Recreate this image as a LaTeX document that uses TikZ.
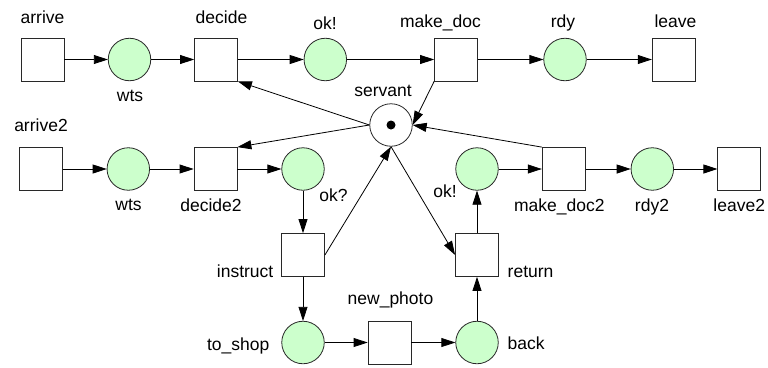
\documentclass[tikz,border=0pt]{standalone}
\usepackage{fontspec}
\setmainfont{Liberation Sans}
\usetikzlibrary{arrows.meta}
\definecolor{placegreen}{RGB}{204,255,204}
\definecolor{edgegray}{RGB}{40,40,40}

\begin{document}
\begin{tikzpicture}[x=1pt,y=-1pt,
  trans/.style={draw=edgegray, fill=white, minimum size=43pt, inner sep=0pt, line width=0.8pt},
  place/.style={circle, draw=edgegray, fill=placegreen, minimum size=42.5pt, inner sep=0pt, line width=0.8pt},
  token/.style={circle, fill=black, minimum size=9pt, inner sep=0pt},
  lbl/.style={anchor=base, inner sep=0pt, font=\fontsize{17.5}{20}\selectfont},
  flow/.style={draw=black, line width=0.8pt, -{Triangle[length=14pt,width=9pt]}},
]
\fill[white] (0,0) rectangle (768,367);
\useasboundingbox (0,0) rectangle (768,367);

% first customer line
\node[trans] (arrive)  at (42.5,59.5) {};
\node[place] (wts)     at (129.5,59.5) {};
\node[trans] (decide)  at (216,59.5) {};
\node[place] (okA)     at (325.3,59.5) {};
\node[trans] (makedoc) at (456,59.5) {};
\node[place] (rdy)     at (565,59.5) {};
\node[trans] (leave)   at (673.7,59.5) {};

% shared resource
\node[place, fill=white] (servant) at (391,125) {};
\node[token] (tok) at (servant.center) {};

% second customer line
\node[trans] (arrive2)  at (41.3,169) {};
\node[place] (wtsB)     at (128.3,169) {};
\node[trans] (decide2)  at (215.5,169) {};
\node[place] (okQ)      at (303,169) {};
\node[place] (okB)      at (477,169) {};
\node[trans] (makedoc2) at (563.7,169) {};
\node[place] (rdy2)     at (652.3,169) {};
\node[trans] (leave2)   at (739.3,169) {};

% photo errand
\node[trans] (instruct) at (303,255) {};
\node[trans] (return)   at (477,255) {};
\node[place] (toshop)   at (303,342.5) {};
\node[trans] (newphoto) at (389.5,342.5) {};
\node[place] (back)     at (477,342.5) {};

% labels
\node[lbl] (l-arrive)   at (42.5,23) {arrive};
\node[lbl] (l-wts)      at (130,101.5) {wts};
\node[lbl] (l-decide)   at (221.5,23) {decide};
\node[lbl] (l-okA)      at (325,29.5) {ok!};
\node[lbl] (l-makedoc)  at (440.5,27) {make\_doc};
\node[lbl] (l-rdy)      at (563,27) {rdy};
\node[lbl] (l-leave)    at (675.5,27) {leave};
\node[lbl] (l-servant)  at (383,96) {servant};
\node[lbl] (l-arrive2)  at (41,131.5) {arrive2};
\node[lbl] (l-wtsB)     at (128.5,210.5) {wts};
\node[lbl] (l-decide2)  at (211,211) {decide2};
\node[lbl] (l-okQ)      at (333.5,201) {ok?};
\node[lbl] (l-okB)      at (445,197.5) {ok!};
\node[lbl] (l-makedoc2) at (559.3,211) {make\_doc2};
\node[lbl] (l-rdy2)     at (652,211) {rdy2};
\node[lbl] (l-leave2)   at (739.2,211) {leave2};
\node[lbl, anchor=base east] (l-instruct) at (273.5,277.5) {instruct};
\node[lbl, anchor=base west] (l-return)   at (507.5,277.5) {return};
\node[lbl] (l-newphoto) at (390.5,304) {new\_photo};
\node[lbl, anchor=base east] (l-toshop)   at (269.5,350) {to\_shop};
\node[lbl, anchor=base west] (l-back)     at (507.5,349) {back};

% arcs of the first line
\draw[flow] (arrive) -- (wts);
\draw[flow] (wts) -- (decide);
\draw[flow] (decide) -- (okA);
\draw[flow] (okA) -- (makedoc);
\draw[flow] (makedoc) -- (rdy);
\draw[flow] (rdy) -- (leave);

% arcs of the second line
\draw[flow] (arrive2) -- (wtsB);
\draw[flow] (wtsB) -- (decide2);
\draw[flow] (decide2) -- (okQ);
\draw[flow] (okB) -- (makedoc2);
\draw[flow] (makedoc2) -- (rdy2);
\draw[flow] (rdy2) -- (leave2);

% errand loop
\draw[flow] (okQ) -- (instruct);
\draw[flow] (instruct) -- (toshop);
\draw[flow] (toshop) -- (newphoto);
\draw[flow] (newphoto) -- (back);
\draw[flow] (back) -- (return);
\draw[flow] (return) -- (okB);

% servant taken and released
\draw[flow] (servant.west) -- (decide.south east);
\draw[flow] (servant.west) -- (decide2.north east);
\draw[flow] (makedoc.south west) -- (servant.east);
\draw[flow] (makedoc2.north west) -- (servant.east);
\draw[flow] (instruct.east) -- (servant.south);
\draw[flow] (servant.south) -- (return.west);
\end{tikzpicture}
\end{document}
